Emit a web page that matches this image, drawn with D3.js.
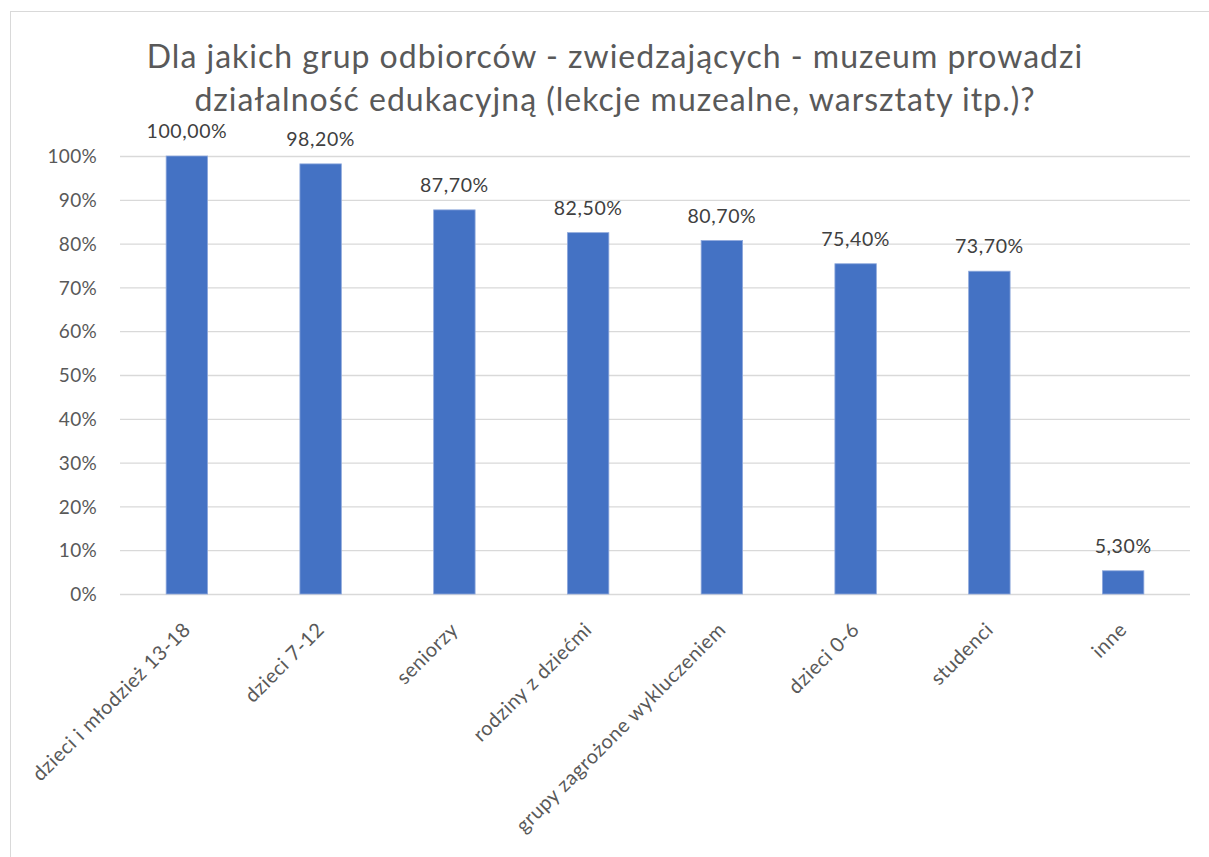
<!DOCTYPE html>
<html>
<head>
<meta charset="utf-8">
<script src="https://cdn.jsdelivr.net/npm/d3@7"></script>
<style>
  html, body { margin: 0; padding: 0; background: #fff; }
  svg { display: block; }
</style>
</head>
<body>
<svg id="chart" width="1209" height="857"></svg>
<script>
const titleLines = [
  "Dla jakich grup odbiorców - zwiedzających - muzeum prowadzi",
  "działalność edukacyjną (lekcje muzealne, warsztaty itp.)?"
];
const categories = [
  "dzieci i młodzież 13-18",
  "dzieci 7-12",
  "seniorzy",
  "rodziny z dziećmi",
  "grupy zagrożone wykluczeniem",
  "dzieci 0-6",
  "studenci",
  "inne"
];
const values = [100.0, 98.2, 87.7, 82.5, 80.7, 75.4, 73.7, 5.3];
const yTicks = [0, 10, 20, 30, 40, 50, 60, 70, 80, 90, 100];

const FONT = "Lato, 'Open Sans', sans-serif";
const svg = d3.select("#chart");

// chart frame
svg.append("rect")
  .attr("x", 10.5).attr("y", 11.5)
  .attr("width", 1230).attr("height", 900)
  .attr("fill", "#fff").attr("stroke", "#d9d9d9").attr("stroke-width", 1);

const plot = { left: 120, right: 1190, top: 156, bottom: 594 };

const x = d3.scaleBand()
  .domain(categories)
  .range([plot.left, plot.right])
  .paddingInner(0.69)
  .paddingOuter(0.345);

const y = d3.scaleLinear().domain([0, 100]).range([plot.bottom, plot.top]);

// gridlines
svg.append("g")
  .attr("transform", `translate(${plot.left},0)`)
  .call(d3.axisLeft(y).tickValues(yTicks).tickSize(-(plot.right - plot.left)).tickFormat(""))
  .call(g => g.select(".domain").remove())
  .call(g => g.selectAll("line").attr("stroke", "#d9d9d9").attr("stroke-width", 1.3));

// y labels
svg.append("g")
  .attr("transform", `translate(${plot.left - 23},0)`)
  .call(d3.axisLeft(y).tickValues(yTicks).tickSize(0).tickFormat(d => d + "%"))
  .call(g => g.select(".domain").remove())
  .call(g => g.selectAll("text")
    .attr("x", 0)
    .attr("fill", "#595959").attr("font-family", FONT).attr("font-size", 19)
    .attr("letter-spacing", 0.3)
    .attr("dy", "0.35em"));

// bars
svg.append("g").selectAll("rect")
  .data(values)
  .join("rect")
  .attr("x", (d, i) => x(categories[i]))
  .attr("y", d => y(d))
  .attr("width", x.bandwidth())
  .attr("height", d => y(0) - y(d))
  .attr("fill", "#4472c4")
  .attr("stroke", "#8fa9dc").attr("stroke-width", 0.8);

// value labels
svg.append("g").selectAll("text")
  .data(values)
  .join("text")
  .attr("x", (d, i) => x(categories[i]) + x.bandwidth() / 2)
  .attr("y", d => y(d) - 18)
  .attr("text-anchor", "middle")
  .attr("fill", "#404040")
  .attr("font-family", FONT).attr("font-size", 19.5)
  .attr("letter-spacing", 0.6)
  .text(d => d.toFixed(2).replace(".", ",") + "%");

// category labels, rotated
svg.append("g")
  .attr("transform", `translate(0,${plot.bottom})`)
  .call(d3.axisBottom(x).tickSize(0))
  .call(g => g.select(".domain").remove())
  .call(g => g.selectAll("text")
    .attr("fill", "#595959").attr("font-family", FONT).attr("font-size", 20)
    .attr("letter-spacing", 0.5)
    .attr("text-anchor", "end")
    .attr("x", 0).attr("y", 0).attr("dy", 0)
    .attr("transform", "translate(5,37) rotate(-45)"));

// title
svg.append("g").selectAll("text")
  .data(titleLines)
  .join("text")
  .attr("x", 615)
  .attr("y", (d, i) => 68 + i * 43)
  .attr("text-anchor", "middle")
  .attr("fill", "#595959")
  .attr("font-family", FONT).attr("font-size", 32)
  .attr("letter-spacing", 1)
  .text(d => d);
</script>
</body>
</html>
